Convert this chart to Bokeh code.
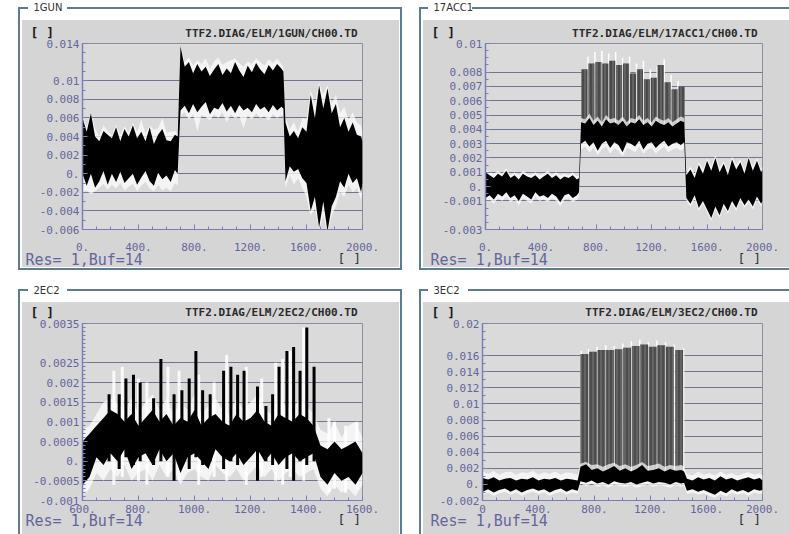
import numpy as np
from bokeh.plotting import figure
from bokeh.models import (Range1d, FixedTicker, Label, ColumnDataSource, CustomJSTickFormatter)
from bokeh.layouts import row, column
from bokeh.embed import file_html
from bokeh.resources import INLINE

# ------------------------------------------------------------------ data
# Panel 1 : 1GUN  (envelopes of black trace and white trace)
gun_x = [0, 30, 60, 90, 120, 150, 180, 210, 240, 270, 300, 330, 360, 390, 420, 450, 480, 510, 540, 570, 600, 630, 660, 680,
         700, 730, 760, 790, 820, 850, 880, 910, 940, 970, 1000, 1030, 1060, 1090, 1120, 1150, 1180, 1210, 1240, 1270, 1300, 1330, 1360, 1390, 1420, 1435,
         1450, 1480, 1510, 1540, 1570, 1600, 1630, 1660, 1690, 1720, 1750, 1780, 1810, 1840, 1870, 1900, 1930, 1960, 1990, 2000]
gun_black_hi = [0.0060, 0.0045, 0.0065, 0.0040, 0.0035, 0.0046, 0.0042, 0.0038, 0.0050, 0.0035, 0.0048, 0.0040, 0.0052, 0.0038, 0.0045, 0.0035, 0.0050, 0.0032, 0.0042, 0.0048, 0.0036, 0.0035, 0.0042, 0.0040,
                0.0137, 0.0115, 0.0120, 0.0108, 0.0118, 0.0110, 0.0115, 0.0105, 0.0112, 0.0118, 0.0106, 0.0113, 0.0108, 0.0120, 0.0111, 0.0104, 0.0116, 0.0109, 0.0119, 0.0112, 0.0107, 0.0117, 0.0111, 0.0118, 0.0113, 0.0110,
                0.0055, 0.0040, 0.0046, 0.0038, 0.0050, 0.0045, 0.0085, 0.0060, 0.0095, 0.0070, 0.0092, 0.0065, 0.0075, 0.0050, 0.0060, 0.0045, 0.0055, 0.0042, 0.0040, 0.0035]
gun_black_lo = [0.0000, -0.0013, 0.0000, -0.0015, -0.0008, 0.0003, -0.0012, 0.0000, -0.0009, 0.0002, -0.0010, -0.0005, 0.0000, -0.0012, -0.0004, 0.0003, -0.0008, -0.0013, 0.0001, -0.0006, -0.0002, -0.0009, 0.0004, 0.0000,
                0.0068, 0.0073, 0.0065, 0.0075, 0.0066, 0.0072, 0.0077, 0.0064, 0.0071, 0.0069, 0.0076, 0.0067, 0.0073, 0.0065, 0.0074, 0.0068, 0.0071, 0.0066, 0.0075, 0.0069, 0.0072, 0.0066, 0.0074, 0.0068, 0.0072, 0.0070,
                -0.0008, 0.0008, 0.0002, 0.0005, -0.0005, -0.0010, -0.0040, -0.0025, -0.0058, -0.0030, -0.0062, -0.0035, -0.0025, -0.0008, -0.0015, 0.0000, -0.0010, -0.0005, -0.0020, -0.0010]
gun_white_hi = [0.0062, 0.0050, 0.0066, 0.0048, 0.0040, 0.0052, 0.0046, 0.0041, 0.0053, 0.0042, 0.0051, 0.0044, 0.0055, 0.0045, 0.0058, 0.0043, 0.0052, 0.0047, 0.0049, 0.0060, 0.0044, 0.0045, 0.0046, 0.0043,
                0.0137, 0.0120, 0.0125, 0.0116, 0.0122, 0.0118, 0.0124, 0.0113, 0.0121, 0.0125, 0.0117, 0.0120, 0.0122, 0.0124, 0.0119, 0.0115, 0.0121, 0.0118, 0.0124, 0.0120, 0.0116, 0.0123, 0.0119, 0.0124, 0.0118, 0.0115,
                0.0060, 0.0048, 0.0055, 0.0045, 0.0060, 0.0058, 0.0090, 0.0075, 0.0098, 0.0085, 0.0095, 0.0075, 0.0085, 0.0065, 0.0072, 0.0058, 0.0066, 0.0055, 0.0052, 0.0045]
gun_white_lo = [-0.0020, -0.0018, -0.0022, -0.0019, -0.0015, -0.0011, -0.0017, -0.0012, -0.0016, -0.0010, -0.0018, -0.0014, -0.0011, -0.0019, -0.0013, -0.0009, -0.0016, -0.0019, -0.0012, -0.0018, -0.0015, -0.0019, -0.0010, -0.0013,
                0.0062, 0.0066, 0.0058, 0.0064, 0.0045, 0.0063, 0.0061, 0.0057, 0.0064, 0.0060, 0.0066, 0.0055, 0.0064, 0.0059, 0.0062, 0.0049, 0.0063, 0.0058, 0.0065, 0.0060, 0.0062, 0.0057, 0.0064, 0.0060, 0.0063, 0.0062,
                -0.0015, -0.0002, -0.0012, -0.0005, -0.0015, -0.0025, -0.0045, -0.0038, -0.0060, -0.0045, -0.0063, -0.0045, -0.0035, -0.0020, -0.0025, -0.0012, -0.0020, -0.0015, -0.0028, -0.0020]

# Panel 2 : 17ACC1
acc_x = [0, 30, 60, 90, 120, 150, 180, 210, 240, 270, 300, 330, 360, 390, 420, 450, 480, 510, 540, 570, 600, 630, 660, 675,
         690, 720, 750, 780, 810, 840, 870, 900, 930, 960, 990, 1020, 1050, 1080, 1110, 1140, 1170, 1200, 1230, 1260, 1290, 1320, 1350, 1380, 1410, 1435,
         1450, 1480, 1510, 1540, 1570, 1600, 1630, 1660, 1690, 1720, 1750, 1780, 1810, 1840, 1870, 1900, 1930, 1960, 1990, 2000]
acc_black_hi = [0.0010, 0.0008, 0.0006, 0.0009, 0.0007, 0.0011, 0.0006, 0.0008, 0.0005, 0.0009, 0.0007, 0.0006, 0.0008, 0.0005, 0.0007, 0.0009, 0.0006, 0.0008, 0.0005, 0.0007, 0.0006, 0.0008, 0.0005, 0.0006,
                0.0045, 0.0044, 0.0048, 0.0043, 0.0046, 0.0042, 0.0047, 0.0044, 0.0045, 0.0043, 0.0046, 0.0042, 0.0045, 0.0044, 0.0047, 0.0043, 0.0045, 0.0042, 0.0046, 0.0044, 0.0043, 0.0045, 0.0042, 0.0044, 0.0046, 0.0045,
                0.0008, 0.0012, 0.0006, 0.0015, 0.0009, 0.0018, 0.0011, 0.0020, 0.0010, 0.0016, 0.0008, 0.0019, 0.0012, 0.0017, 0.0009, 0.0020, 0.0011, 0.0018, 0.0010, 0.0012]
acc_black_lo = [-0.0008, -0.0006, -0.0009, -0.0005, -0.0007, -0.0004, -0.0008, -0.0006, -0.0010, -0.0005, -0.0007, -0.0009, -0.0004, -0.0007, -0.0006, -0.0008, -0.0005, -0.0007, -0.0011, -0.0006, -0.0005, -0.0008, -0.0006, -0.0004,
                0.0030, 0.0032, 0.0028, 0.0031, 0.0025, 0.0030, 0.0032, 0.0027, 0.0031, 0.0029, 0.0024, 0.0031, 0.0030, 0.0028, 0.0032, 0.0026, 0.0030, 0.0031, 0.0027, 0.0030, 0.0032, 0.0028, 0.0030, 0.0031, 0.0029, 0.0031,
                -0.0008, -0.0012, -0.0006, -0.0015, -0.0010, -0.0016, -0.0022, -0.0014, -0.0020, -0.0012, -0.0017, -0.0010, -0.0015, -0.0008, -0.0013, -0.0009, -0.0014, -0.0007, -0.0012, -0.0010]
acc_white_hi = [0.0012, 0.0010, 0.0009, 0.0011, 0.0009, 0.0013, 0.0008, 0.0010, 0.0008, 0.0011, 0.0009, 0.0008, 0.0010, 0.0008, 0.0009, 0.0011, 0.0008, 0.0010, 0.0008, 0.0009, 0.0008, 0.0010, 0.0007, 0.0008,
                0.0048, 0.0047, 0.0051, 0.0046, 0.0049, 0.0045, 0.0050, 0.0047, 0.0048, 0.0046, 0.0049, 0.0045, 0.0048, 0.0047, 0.0050, 0.0046, 0.0048, 0.0045, 0.0049, 0.0047, 0.0046, 0.0048, 0.0045, 0.0047, 0.0049, 0.0048,
                0.0010, 0.0014, 0.0009, 0.0017, 0.0012, 0.0020, 0.0014, 0.0022, 0.0013, 0.0018, 0.0011, 0.0021, 0.0015, 0.0019, 0.0012, 0.0021, 0.0014, 0.0020, 0.0012, 0.0014]
acc_white_lo = [-0.0011, -0.0009, -0.0012, -0.0008, -0.0010, -0.0007, -0.0011, -0.0009, -0.0013, -0.0008, -0.0010, -0.0012, -0.0007, -0.0010, -0.0009, -0.0011, -0.0008, -0.0010, -0.0014, -0.0009, -0.0008, -0.0011, -0.0009, -0.0007,
                0.0026, 0.0028, 0.0024, 0.0027, 0.0022, 0.0026, 0.0028, 0.0023, 0.0027, 0.0025, 0.0021, 0.0027, 0.0026, 0.0024, 0.0028, 0.0023, 0.0026, 0.0027, 0.0023, 0.0026, 0.0028, 0.0024, 0.0026, 0.0027, 0.0025, 0.0027,
                -0.0010, -0.0014, -0.0009, -0.0017, -0.0012, -0.0018, -0.0024, -0.0016, -0.0022, -0.0014, -0.0019, -0.0012, -0.0017, -0.0010, -0.0015, -0.0011, -0.0016, -0.0009, -0.0014, -0.0012]
acc_col_x = [715, 765, 815, 865, 915, 965, 1015, 1065, 1115, 1165, 1215, 1265, 1315, 1365, 1415]
acc_col_top = [0.0082, 0.0086, 0.0087, 0.0086, 0.0088, 0.0085, 0.0086, 0.0079, 0.0082, 0.0075, 0.0076, 0.0085, 0.0073, 0.0068, 0.0070]
acc_col_base = 0.0035
acc_wspike_x = [740, 790, 840, 890, 940, 990, 1040, 1090, 1140, 1190, 1240, 1290, 1340, 1390]
acc_wspike_top = [0.0091, 0.0094, 0.0095, 0.0093, 0.0094, 0.0090, 0.0091, 0.0086, 0.0088, 0.0082, 0.0084, 0.0089, 0.0078, 0.0074]

# Panel 3 : 2EC2
ec2_x = [600, 625, 650, 675, 700, 725, 750, 775, 800, 825, 850, 875, 900, 925, 950, 975, 1000, 1025, 1050, 1075, 1100,
         1125, 1150, 1175, 1200, 1225, 1250, 1275, 1300, 1325, 1350, 1375, 1400, 1425, 1450, 1475, 1500, 1525, 1550, 1575, 1600]
ec2_black_hi = [0.0005, 0.0007, 0.0009, 0.0011, 0.0013, 0.0012, 0.0010, 0.0012, 0.0009, 0.0011, 0.0013, 0.0010, 0.0012, 0.0009, 0.0011, 0.0010, 0.0013, 0.0009, 0.0011, 0.0012, 0.0010,
                0.0009, 0.0012, 0.0010, 0.0011, 0.0013, 0.0010, 0.0009, 0.0012, 0.0011, 0.0010, 0.0012, 0.0011, 0.0009, 0.0004, 0.0003, 0.0005, 0.0003, 0.0004, 0.0005, 0.0002]
ec2_black_lo = [-0.0006, -0.0004, 0.0001, -0.0001, 0.0002, 0.0000, 0.0003, -0.0002, 0.0001, 0.0002, -0.0001, 0.0003, 0.0000, 0.0002, -0.0003, 0.0001, 0.0002, 0.0000, -0.0002, 0.0003, 0.0001,
                0.0000, 0.0002, -0.0001, 0.0001, 0.0003, 0.0000, 0.0002, -0.0001, 0.0001, 0.0002, 0.0000, 0.0001, 0.0002, -0.0004, -0.0006, -0.0003, -0.0005, -0.0004, -0.0006, -0.0003]
ec2_white_hi = [0.0008, 0.0009, 0.0012, 0.0015, 0.0016, 0.0015, 0.0013, 0.0016, 0.0012, 0.0015, 0.0017, 0.0013, 0.0016, 0.0012, 0.0015, 0.0013, 0.0017, 0.0012, 0.0014, 0.0016, 0.0013,
                0.0012, 0.0016, 0.0013, 0.0015, 0.0017, 0.0013, 0.0012, 0.0016, 0.0014, 0.0013, 0.0016, 0.0014, 0.0012, 0.0008, 0.0007, 0.0010, 0.0006, 0.0009, 0.0010, 0.0006]
ec2_white_lo = [-0.0009, -0.0007, -0.0003, -0.0005, -0.0002, -0.0004, -0.0001, -0.0005, -0.0003, -0.0002, -0.0005, -0.0001, -0.0004, -0.0002, -0.0006, -0.0003, -0.0002, -0.0004, -0.0005, -0.0001, -0.0003,
                -0.0004, -0.0002, -0.0005, -0.0003, -0.0001, -0.0004, -0.0002, -0.0005, -0.0003, -0.0002, -0.0004, -0.0003, -0.0002, -0.0007, -0.0009, -0.0006, -0.0008, -0.0007, -0.0009, -0.0006]
ec2_spike_x = [695, 731, 755, 782, 806, 854, 880, 927, 955, 981, 1005, 1029, 1056, 1104, 1130, 1154, 1177, 1225, 1255, 1279, 1302, 1330, 1354, 1377, 1401, 1427]
ec2_spike_top = [0.0017, 0.0017, 0.0021, 0.0022, 0.0020, 0.0016, 0.0026, 0.0017, 0.0018, 0.0021, 0.0028, 0.0018, 0.0017, 0.0023, 0.0024, 0.0022, 0.0023, 0.0019, 0.0014, 0.0017, 0.0024, 0.0028, 0.0029, 0.0023, 0.0034, 0.0024]
ec2_spike_bottom = [0.0000, -0.0002, 0.0001, -0.0001, 0.0000, -0.0001, 0.0000, -0.0005, 0.0000, -0.0002, 0.0001, -0.0001, 0.0000, -0.0002, 0.0000, -0.0001, 0.0000, -0.0005, 0.0000, -0.0001, 0.0000, -0.0002, -0.0005, 0.0000, -0.0001, 0.0000]
ec2_wspike_x = [712, 742, 800, 830, 905, 945, 1015, 1070, 1115, 1185, 1240, 1290, 1315, 1342, 1390, 1480, 1500, 1540, 1580]
ec2_wspike_top = [0.0023, 0.0024, 0.0021, 0.0020, 0.0024, 0.0023, 0.0022, 0.0020, 0.0027, 0.0024, 0.0021, 0.0025, 0.0026, 0.0028, 0.0034, 0.0011, 0.0010, 0.0009, 0.0010]
ec2_wspike_bottom = [-0.0006, -0.0004, -0.0005, -0.0006, -0.0004, -0.0005, -0.0006, -0.0004, -0.0005, -0.0006, -0.0004, -0.0005, -0.0006, -0.0004, -0.0005, -0.0008, -0.0007, -0.0008, -0.0007]

# Panel 4 : 3EC2
ec3_x = [0, 40, 80, 120, 160, 200, 240, 280, 320, 360, 400, 440, 480, 520, 560, 600, 640, 680,
         700, 740, 780, 820, 860, 900, 940, 980, 1020, 1060, 1100, 1140, 1180, 1220, 1260, 1300, 1340, 1380, 1420, 1440,
         1460, 1500, 1540, 1580, 1620, 1660, 1700, 1740, 1780, 1820, 1860, 1900, 1940, 1980, 2000]
ec3_black_hi = [0.0008, 0.0006, 0.0009, 0.0005, 0.0007, 0.0008, 0.0005, 0.0007, 0.0006, 0.0009, 0.0005, 0.0007, 0.0006, 0.0008, 0.0005, 0.0007, 0.0006, 0.0005,
                0.0022, 0.0025, 0.0018, 0.0020, 0.0016, 0.0019, 0.0023, 0.0017, 0.0020, 0.0016, 0.0019, 0.0024, 0.0017, 0.0018, 0.0020, 0.0016, 0.0019, 0.0017, 0.0018, 0.0016,
                0.0007, 0.0005, 0.0009, 0.0006, 0.0008, 0.0005, 0.0010, 0.0006, 0.0008, 0.0005, 0.0007, 0.0009, 0.0006, 0.0008, 0.0005]
ec3_black_lo = [-0.0009, -0.0006, -0.0010, -0.0007, -0.0005, -0.0009, -0.0006, -0.0010, -0.0007, -0.0005, -0.0008, -0.0006, -0.0010, -0.0007, -0.0005, -0.0009, -0.0006, -0.0008,
                0.0004, 0.0002, 0.0005, 0.0001, 0.0003, 0.0000, 0.0004, 0.0002, 0.0001, 0.0003, 0.0000, 0.0002, 0.0004, 0.0001, 0.0003, 0.0002, 0.0000, 0.0003, 0.0001, 0.0002,
                -0.0008, -0.0006, -0.0009, -0.0007, -0.0010, -0.0013, -0.0008, -0.0011, -0.0006, -0.0009, -0.0007, -0.0010, -0.0006, -0.0008, -0.0007]
ec3_white_hi = [0.0016, 0.0013, 0.0017, 0.0012, 0.0015, 0.0016, 0.0012, 0.0015, 0.0014, 0.0017, 0.0012, 0.0015, 0.0013, 0.0016, 0.0012, 0.0015, 0.0014, 0.0012,
                0.0026, 0.0028, 0.0024, 0.0025, 0.0022, 0.0025, 0.0027, 0.0023, 0.0025, 0.0022, 0.0024, 0.0028, 0.0023, 0.0024, 0.0026, 0.0022, 0.0024, 0.0023, 0.0024, 0.0022,
                0.0013, 0.0011, 0.0016, 0.0012, 0.0014, 0.0011, 0.0016, 0.0012, 0.0014, 0.0011, 0.0013, 0.0015, 0.0012, 0.0014, 0.0011]
ec3_white_lo = [-0.0013, -0.0010, -0.0014, -0.0011, -0.0009, -0.0013, -0.0010, -0.0014, -0.0011, -0.0009, -0.0012, -0.0010, -0.0014, -0.0011, -0.0009, -0.0013, -0.0010, -0.0012,
                0.0001, -0.0002, 0.0001, -0.0003, -0.0001, -0.0004, 0.0000, -0.0002, -0.0003, -0.0001, -0.0004, -0.0002, 0.0000, -0.0003, -0.0001, -0.0002, -0.0004, -0.0001, -0.0003, -0.0002,
                -0.0012, -0.0010, -0.0013, -0.0011, -0.0014, -0.0017, -0.0012, -0.0015, -0.0010, -0.0013, -0.0011, -0.0014, -0.0010, -0.0012, -0.0011]
ec3_col_x = [728, 789, 850, 911, 972, 1033, 1094, 1155, 1216, 1277, 1338, 1405]
ec3_col_top = [0.0162, 0.0165, 0.0167, 0.0167, 0.0168, 0.0170, 0.0172, 0.0174, 0.0171, 0.0173, 0.0171, 0.0167]
ec3_col_base = 0.0010
ec3_wspike_x = [705, 758, 819, 880, 941, 1002, 1063, 1124, 1185, 1246, 1307, 1368, 1436]
ec3_wspike_top = [0.0166, 0.0168, 0.0171, 0.0173, 0.0172, 0.0175, 0.0178, 0.0180, 0.0177, 0.0179, 0.0177, 0.0174, 0.0170]

# axis ticks / labels
gun_yticks = [0.014, 0.01, 0.008, 0.006, 0.004, 0.002, 0.0, -0.002, -0.004, -0.006]
gun_ylabels = ["0.014", "0.01", "0.008", "0.006", "0.004", "0.002", "0.", "-0.002", "-0.004", "-0.006"]
acc_yticks = [0.01, 0.008, 0.007, 0.006, 0.005, 0.004, 0.003, 0.002, 0.001, 0.0, -0.001, -0.003]
acc_ylabels = ["0.01", "0.008", "0.007", "0.006", "0.005", "0.004", "0.003", "0.002", "0.001", "0.", "-0.001", "-0.003"]
ec2_yticks = [0.0035, 0.0025, 0.002, 0.0015, 0.001, 0.0005, 0.0, -0.0005, -0.001]
ec2_ylabels = ["0.0035", "0.0025", "0.002", "0.0015", "0.001", "0.0005", "0.", "-0.0005", "-0.001"]
ec3_yticks = [0.02, 0.016, 0.014, 0.012, 0.01, 0.008, 0.006, 0.004, 0.002, 0.0, -0.002]
ec3_ylabels = ["0.02", "0.016", "0.014", "0.012", "0.01", "0.008", "0.006", "0.004", "0.002", "0.", "-0.002"]
full_xticks = [0, 400, 800, 1200, 1600, 2000]
full_xlabels = ["0.", "400.", "800.", "1200.", "1600.", "2000."]
ec3_xlabels = ["0", "400.", "800.", "1200.", "1600.", "2000."]
ec2_xticks = [600, 800, 1000, 1200, 1400, 1600]
ec2_xlabels = ["600.", "800.", "1000.", "1200.", "1400.", "1600."]

# ------------------------------------------------------------------ style
GRAY = "#d5d5d5"
PLOT_BG = "#dadada"
GRID = "#70758f"
AXIS = "#7c7cb8"
TICKTXT = "#65659c"
FRAME = "#5d7c90"
MONO = "DejaVu Sans Mono"


def fmt(ticks, labels):
    return CustomJSTickFormatter(args=dict(t=ticks, l=labels), code="""
        for (let i = 0; i < t.length; i++) { if (Math.abs(t[i] - tick) < 1e-9) return l[i]; }
        return "";""")


def css_bg(gray, frame, gap):
    """CSS background: grey panel + frame lines (2px, gap for the name) on white."""
    gl, gt, gr, gb = gray
    fl, ft, fr, fb = frame
    g0, g1 = gap
    layers = ["linear-gradient(%s,%s) %dpx %dpx / %dpx %dpx no-repeat" % (GRAY, GRAY, gl, gt, gr - gl, gb - gt)]
    line = "linear-gradient(%s,%s) %%dpx %%dpx / %%dpx %%dpx no-repeat" % (FRAME, FRAME)
    layers.append(line % (fl, ft, g0 - fl, 2))
    layers.append(line % (g1, ft, fr - g1 + 2, 2))
    layers.append(line % (fl, ft, 2, fb - ft + 2))
    layers.append(line % (fr, ft, 2, fb - ft + 2))
    layers.append(line % (fl, fb, fr - fl + 2, 2))
    return ", ".join(layers) + ", #ffffff"


def make(fw, fh, borders, xr, yr, xt, xl, xminor, yt, yl, yminor, xstand, gray, frame, gap):
    L, R, T, B = borders
    p = figure(width=fw, height=fh, x_range=Range1d(*xr), y_range=Range1d(*yr),
               output_backend="svg", toolbar_location=None,
               min_border_left=L, min_border_right=R, min_border_top=T, min_border_bottom=B,
               styles={"background": css_bg(gray, frame, gap)})
    p.border_fill_color = None
    p.background_fill_color = PLOT_BG
    p.outline_line_color = "#8e8ea0"
    xtk = FixedTicker(ticks=xt, minor_ticks=xminor)
    ytk = FixedTicker(ticks=yt, minor_ticks=yminor)
    p.xaxis.ticker = xtk
    p.yaxis.ticker = ytk
    p.ygrid.ticker = ytk
    p.xgrid.visible = False
    p.ygrid.grid_line_color = GRID
    p.xaxis.formatter = fmt(xt, xl)
    p.yaxis.formatter = fmt(yt, yl)
    for ax in (p.xaxis[0], p.yaxis[0]):
        ax.axis_line_color = AXIS
        ax.major_tick_line_color = AXIS
        ax.minor_tick_line_color = AXIS
        ax.major_tick_in = 5
        ax.major_tick_out = 0
        ax.minor_tick_in = 3
        ax.minor_tick_out = 0
        ax.major_label_text_color = TICKTXT
        ax.major_label_text_font = MONO
        ax.major_label_text_font_size = "11px"
    p.yaxis.axis_line_width = 1.5
    p.yaxis.major_label_standoff = 3
    p.xaxis.major_label_standoff = xstand
    return p


def traces(p, x, whi, wlo, bhi, blo):
    src = ColumnDataSource(dict(x=x, whi=whi, wlo=wlo, bhi=bhi, blo=blo))
    p.varea(x="x", y1="wlo", y2="whi", source=src, fill_color="white", fill_alpha=0.7)
    p.varea(x="x", y1="blo", y2="bhi", source=src, fill_color="black")


def lab(p, side, x, y, text, size, color, style="normal", align="left", font=MONO):
    p.add_layout(Label(x=x, y=y, x_units="canvas", y_units="canvas", text=text,
                       text_font=font, text_font_size=size, text_font_style=style,
                       text_color=color, text_align=align, text_baseline="middle"), side)


def decorate(p, name, name_x, name_y, path, path_x, path_y, res_x, res_y, br_x, bl_x):
    lab(p, "above", name_x, name_y, name, "10px", "#333333", font="DejaVu Sans")
    lab(p, "above", path_x, path_y, path, "11px", "#2a2a2a", style="bold", align="right")
    lab(p, "above", br_x, res_y - 1, "[  ]", "13px", "#333333")
    lab(p, "left", bl_x, 32, "[ ]", "13px", "#1a1a1a", style="bold")
    lab(p, "below", res_x, res_y, "Res= 1,Buf=14", "15px", TICKTXT)


x_minor_full = list(np.arange(0, 2001, 100))
x_minor_ec2 = list(np.arange(600, 1601, 50))

# Panel 1
p1 = make(410, 280, (82, 48, 43, 51), (0, 2000), (-0.006, 0.014), full_xticks, full_xlabels, x_minor_full,
          gun_yticks, gun_ylabels, list(np.arange(-0.006, 0.0141, 0.001)), 13,
          (22, 20, 399, 267), (18, 7, 400, 268), (28, 67))
traces(p1, gun_x, gun_white_hi, gun_white_lo, gun_black_hi, gun_black_lo)
decorate(p1, "1GUN", 33, 7, "TTF2.DIAG/ELM/1GUN/CH00.TD", 357, 33, 25, 259, 337, 30)

# Panel 2
p2 = make(379, 280, (75, 27, 43, 50), (0, 2000), (-0.003, 0.01), full_xticks, full_xlabels, x_minor_full,
          acc_yticks, acc_ylabels, list(np.arange(-0.003, 0.0101, 0.0005)), 13,
          (13, 20, 379, 267), (9, 7, 385, 268), (18, 62))
p2.segment(x0="x", y0=acc_col_base, x1="x", y1="t",
           source=ColumnDataSource(dict(x=acc_wspike_x, t=acc_wspike_top)), line_color="white", line_width=1.5)
p2.vbar(x=acc_col_x, top=acc_col_top, bottom=acc_col_base, width=44, fill_color="#4a4a4a", line_color=None,
        hatch_pattern="vertical_line", hatch_color="#7a7a7a", hatch_scale=4, hatch_weight=1)
traces(p2, acc_x, acc_white_hi, acc_white_lo, acc_black_hi, acc_black_lo)
decorate(p2, "17ACC1", 23, 7, "TTF2.DIAG/ELM/17ACC1/CH00.TD", 347, 33, 20, 259, 327, 21)

# Panel 3
p3 = make(410, 254, (82, 48, 43, 34), (600, 1600), (-0.001, 0.0035), ec2_xticks, ec2_xlabels, x_minor_ec2,
          ec2_yticks, ec2_ylabels, list(np.arange(-0.001, 0.00351, 0.0001)), 4,
          (22, 22, 399, 254), (18, 9, 400, 260), (28, 67))
p3.segment(x0="x", y0="b", x1="x", y1="t",
           source=ColumnDataSource(dict(x=ec2_wspike_x, t=ec2_wspike_top, b=ec2_wspike_bottom)),
           line_color="white", line_width=3, line_alpha=0.85)
traces(p3, ec2_x, ec2_white_hi, ec2_white_lo, ec2_black_hi, ec2_black_lo)
p3.segment(x0="x", y0="b", x1="x", y1="t",
           source=ColumnDataSource(dict(x=ec2_spike_x, t=ec2_spike_top, b=ec2_spike_bottom)),
           line_color="black", line_width=3)
decorate(p3, "2EC2", 33, 10, "TTF2.DIAG/ELM/2EC2/CH00.TD", 357, 32, 25, 240, 337, 30)

# Panel 4
p4 = make(379, 254, (72, 27, 42, 34), (0, 2000), (-0.002, 0.02), full_xticks, ec3_xlabels, x_minor_full,
          ec3_yticks, ec3_ylabels, list(np.arange(-0.002, 0.0201, 0.001)), 4,
          (13, 22, 379, 254), (9, 9, 385, 260), (18, 58))
p4.segment(x0="x", y0=ec3_col_base, x1="x", y1="t",
           source=ColumnDataSource(dict(x=ec3_wspike_x, t=ec3_wspike_top)), line_color="white", line_width=1.5)
p4.vbar(x=ec3_col_x, top=ec3_col_top, bottom=ec3_col_base, width=56, fill_color="#4d4d4d", line_color=None,
        hatch_pattern="vertical_line", hatch_color="#7a7a7a", hatch_scale=4, hatch_weight=1)
traces(p4, ec3_x, ec3_white_hi, ec3_white_lo, ec3_black_hi, ec3_black_lo)
decorate(p4, "3EC2", 23, 10, "TTF2.DIAG/ELM/3EC2/CH00.TD", 347, 32, 20, 240, 327, 21)

layout = column(row(p1, p2), row(p3, p4))
open("out.html", "w").write(file_html(layout, INLINE))
